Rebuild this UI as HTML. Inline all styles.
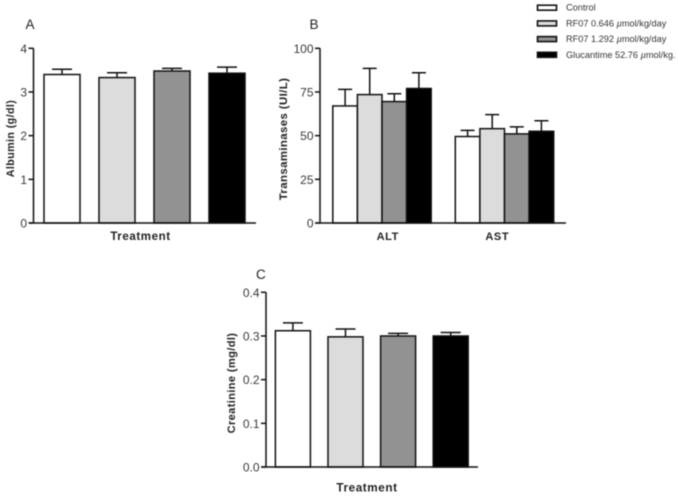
<!DOCTYPE html>
<html>
<head>
<meta charset="utf-8">
<style>
html,body{margin:0;padding:0;background:#fff;}
#wrap{width:678px;height:496px;overflow:hidden;}
svg{display:block;filter:blur(0.4px);}
text{font-family:"Liberation Sans",Arial,sans-serif;}
</style>
</head>
<body>
<div id="wrap">
<svg id="fig" xmlns="http://www.w3.org/2000/svg" width="678" height="496" viewBox="0 0 678 496"></svg>
</div>
<script>
var seriesNames = ['Control', 'RF07 0.646 µmol/kg/day', 'RF07 1.292 µmol/kg/day', 'Glucantime 52.76 µmol/kg.'];
var seriesFills = ['#ffffff', '#dcdcdc', '#929292', '#000000'];

var albuminValues = [3.40, 3.33, 3.48, 3.43];
var albuminTops = [3.52, 3.44, 3.54, 3.57];
var albuminTicks = ['0', '1', '2', '3', '4'];

var altValues = [67, 73.5, 69.5, 77];
var altTops = [76.5, 88.5, 74, 86];
var astValues = [49.5, 54, 51, 52.5];
var astTops = [53, 62, 55, 58.5];
var transTicks = ['0', '25', '50', '75', '100'];

var creatinineValues = [0.312, 0.298, 0.300, 0.300];
var creatinineTops = [0.330, 0.316, 0.306, 0.308];
var creatinineTicks = ['0.0', '0.1', '0.2', '0.3', '0.4'];

var NS = 'http://www.w3.org/2000/svg';
var svg = document.getElementById('fig');
var INK = '#111';
var TXT = '#3a3a3a';

function make(tag, attrs, parent, txt) {
  var el = document.createElementNS(NS, tag);
  for (var k in attrs) { el.setAttribute(k, attrs[k]); }
  if (txt !== undefined) { el.textContent = txt; }
  (parent || svg).appendChild(el);
  return el;
}

function panel(cfg) {
  var g = make('g', {});
  
  
  var yMax = parseFloat(cfg.ticks[cfg.ticks.length - 1]);
  function y(v) { return cfg.y0 - (v / yMax) * (cfg.y0 - cfg.yTop); }

  var letter = make('text', {x: cfg.letterX, y: cfg.letterY, 'font-size': 13.5, fill: '#222'}, g, cfg.letter);
  
  

  cfg.groups.forEach(function (grp) {
    grp.values.forEach(function (v, i) {
      var x0 = grp.left + i * (cfg.barW + cfg.gap);
      var cx = x0 + cfg.barW / 2;
      var err = make('path', {
        d: 'M' + cx + ' ' + y(v) + 'V' + y(grp.tops[i]) + 'M' + (cx - cfg.cap) + ' ' + y(grp.tops[i]) + 'H' + (cx + cfg.cap),
        stroke: INK, 'stroke-width': 1.5, fill: 'none'
      }, g);
      
      
      var bar = make('rect', {
        x: x0, y: y(v), width: cfg.barW, height: cfg.y0 - y(v),
        fill: seriesFills[i], stroke: INK, 'stroke-width': 1.5
      }, g);
      
      
    });
  });

  var axes = make('path', {
    d: 'M' + cfg.xAxis + ' ' + cfg.yTop + 'V' + cfg.y0 + 'M' + (cfg.xAxis - 4) + ' ' + cfg.y0 + 'H' + cfg.xEnd,
    stroke: INK, 'stroke-width': 1.5, fill: 'none'
  }, g);
  
  

  cfg.ticks.forEach(function (t) {
    var ty = y(parseFloat(t));
    var tick = make('path', {d: 'M' + (cfg.xAxis - 5) + ' ' + ty + 'H' + cfg.xAxis, stroke: INK, 'stroke-width': 1.5}, g);
    
    
    var lab = make('text', {x: cfg.xAxis - 6.5, y: ty + 4.5, 'font-size': 12, 'text-anchor': 'end', fill: TXT}, g, t);
    
    
  });

  var yt = make('text', {
    transform: 'translate(' + cfg.yTitleX + ' ' + cfg.yTitleY + ') rotate(-90)',
    'font-size': cfg.yTitleSize, 'font-weight': 'bold', 'text-anchor': 'middle', fill: '#222', 'letter-spacing': '0.4'
  }, g, cfg.yTitle);
  
  

  cfg.xLabels.forEach(function (l) {
    var xt = make('text', {
      x: l.x, y: l.y, 'font-size': l.size, 'font-weight': 'bold', 'text-anchor': 'middle', fill: '#222', 'letter-spacing': '0.6'
    }, g, l.text);
    
    
  });
}

panel({
  name: 'panel-a-albumin', letter: 'A', letterX: 25.5, letterY: 29,
  ticks: albuminTicks, y0: 223, yTop: 48.3, xAxis: 33.5, xEnd: 256,
  barW: 36, gap: 19, cap: 10,
  groups: [{left: 44, values: albuminValues, tops: albuminTops}],
  yTitle: 'Albumin (g/dl)', yTitleX: 14, yTitleY: 138.5, yTitleSize: 10.7,
  xLabels: [{text: 'Treatment', x: 140.5, y: 240, size: 11.5}]
});

panel({
  name: 'panel-b-transaminases', letter: 'B', letterX: 309.5, letterY: 29,
  ticks: transTicks, y0: 223, yTop: 48.3, xAxis: 320, xEnd: 566,
  barW: 24.6, gap: 0, cap: 7,
  groups: [
    {left: 332.8, values: altValues, tops: altTops},
    {left: 455.3, values: astValues, tops: astTops}
  ],
  yTitle: 'Transaminases (UI/L)', yTitleX: 287, yTitleY: 139, yTitleSize: 11.4,
  xLabels: [{text: 'ALT', x: 387.8, y: 240, size: 11}, {text: 'AST', x: 497.3, y: 240, size: 11}]
});

panel({
  name: 'panel-c-creatinine', letter: 'C', letterX: 256, letterY: 279,
  ticks: creatinineTicks, y0: 467, yTop: 292.3, xAxis: 266, xEnd: 478,
  barW: 35, gap: 17.6, cap: 10,
  groups: [{left: 275.4, values: creatinineValues, tops: creatinineTops}],
  yTitle: 'Creatinine (mg/dl)', yTitleX: 235, yTitleY: 383, yTitleSize: 11,
  xLabels: [{text: 'Treatment', x: 367, y: 491.5, size: 11.7}]
});

var legend = make('g', {});


seriesNames.forEach(function (name, i) {
  var ly = 7.7 + i * 15.7;
  var sw = make('rect', {x: 537.5, y: ly - 2.5, width: 19, height: 5, fill: seriesFills[i], stroke: INK, 'stroke-width': 1.6}, legend);
  
  
  var lt = make('text', {x: 566, y: ly + 3, 'font-size': 9.2, fill: '#333'}, legend);
  
  
  var parts = name.split('µ');
  make('tspan', {}, lt, parts[0]);
  if (parts.length > 1) {
    make('tspan', {'font-style': 'italic'}, lt, 'µ');
    make('tspan', {}, lt, parts[1]);
  }
});
</script>
</body>
</html>
